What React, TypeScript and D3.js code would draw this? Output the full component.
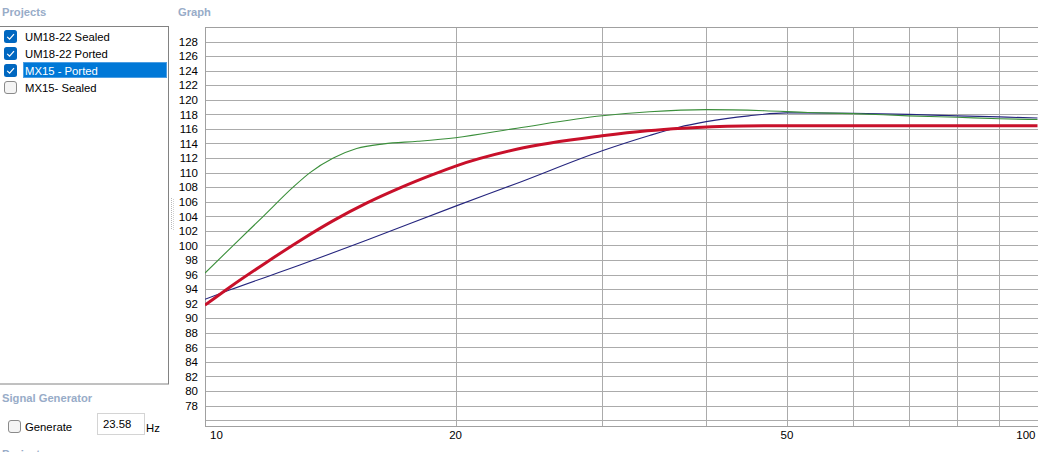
import React from "react";
import * as d3 from "d3";

const projectNames = ["UM18-22 Sealed", "UM18-22 Ported", "MX15 - Ported", "MX15- Sealed"];
const projectChecked = [true, true, true, false];
const selectedIndex = 2;

const yTicks = [78, 80, 82, 84, 86, 88, 90, 92, 94, 96, 98, 100, 102, 104, 106, 108, 110, 112, 114, 116, 118, 120, 122, 124, 126, 128];
const yGrid = [76, ...yTicks];
const xGrid = [20, 30, 40, 50, 60, 70, 80, 90];
const xLabels = [10, 20, 50, 100];

// UM18-22 Sealed (blue)
const sealedFreq = [10, 10.72, 13.0, 15.63, 20, 23.67, 30, 34.2, 37, 40, 45, 50, 60, 70, 80, 90, 100];
const sealedDb = [92.6, 93.9, 97.3, 100.7, 105.4, 108.5, 113.0, 115.1, 116.2, 117.0, 117.8, 118.2, 118.15, 118.0, 117.8, 117.65, 117.5];

// UM18-22 Ported (green)
const portedFreq = [10, 10.8, 11.75, 12.76, 13.37, 14.26, 15.21, 16.4, 18.0, 20, 23.7, 30, 34.2, 40, 47, 53, 60, 70, 80, 90, 100];
const portedDb = [96.2, 99.95, 104.0, 108.0, 110.0, 112.0, 113.3, 113.95, 114.3, 114.8, 116.1, 117.8, 118.35, 118.65, 118.5, 118.25, 118.1, 117.8, 117.6, 117.4, 117.3];

// MX15 - Ported (red)
const mxFreq = [10, 10.72, 11.86, 13.0, 14.26, 15.63, 17.15, 18.8, 20, 23.67, 30, 34, 37.5, 44.3, 50, 100];
const mxDb = [91.8, 94.3, 97.7, 100.65, 103.4, 105.8, 107.9, 109.75, 110.9, 113.2, 115.05, 115.75, 116.1, 116.4, 116.45, 116.45];

const W = 1038;
const H = 452;
const FONT = "'Segoe UI', 'Liberation Sans', Arial, sans-serif";

function Checkbox({ x, y, checked }: { x: number; y: number; checked: boolean }) {
  if (checked) {
    return (
      <g>
        <rect x={x} y={y} width={13} height={13} rx={2.5} fill="#0067c0" />
        <path d={`M${x + 3.2},${y + 6.8} L${x + 5.6},${y + 9.2} L${x + 10},${y + 4.2}`} fill="none" stroke="#ffffff" strokeWidth={1.2} />
      </g>
    );
  }
  return <rect x={x + 0.5} y={y + 0.5} width={12} height={12} rx={2.5} fill="#f4f4f4" stroke="#8a8a8a" strokeWidth={1} />;
}

export default function App() {
  const x = d3.scaleLog().domain([10, 100]).range([205, 1037.5]);
  const y = d3.scaleLinear().domain([130, 75.2]).range([27, 426]);

  const line = d3
    .line<[number, number]>()
    .x((d) => x(d[0]))
    .y((d) => y(d[1]))
    .curve(d3.curveMonotoneX);

  const series = [
    { f: sealedFreq, v: sealedDb, color: "#25257e", w: 1.1 },
    { f: portedFreq, v: portedDb, color: "#3b8f3b", w: 1.1 },
    { f: mxFreq, v: mxDb, color: "#c8102a", w: 3 },
  ];

  const headColor = "#98acc8";
  const left = 205;
  const right = W;
  const top = 27;
  const bottom = 426;

  const dots: JSX.Element[] = [];
  for (let i = 0; i < 16; i++) {
    dots.push(<rect key={"a" + i} x={171} y={198 + i * 2} width={1} height={1} fill="#b8b8b8" />);
    dots.push(<rect key={"b" + i} x={173} y={199 + i * 2} width={1} height={1} fill="#cfcfcf" />);
  }

  return (
    <svg width={W} height={H} style={{ position: "absolute", left: 0, top: 0, background: "#ffffff" }} fontFamily={FONT}>
      <rect x={0} y={0} width={W} height={H} fill="#ffffff" />
      {/* Left panel */}
      <text x={2} y={16} fontSize={11.2} fontWeight={700} fill={headColor}>Projects</text>
      <rect x={-0.5} y={26.5} width={169} height={357.5} fill="#ffffff" stroke="#828282" strokeWidth={1} />
      {projectNames.map((name, i) => {
        const cy = 36 + i * 17;
        const sel = i === selectedIndex;
        return (
          <g key={name}>
            {sel && <rect x={23} y={cy - 8} width={144} height={16} fill="#0078d7" />}
            {sel && <rect x={23.5} y={cy - 7.5} width={143} height={15} fill="none" stroke="#99c4ee" strokeWidth={1} strokeDasharray="1,1" />}
            <Checkbox x={4} y={cy - 6} checked={projectChecked[i]} />
            <text x={25} y={cy + 4.5} fontSize={11.3} fill={sel ? "#ffffff" : "#000000"}>{name}</text>
          </g>
        );
      })}
      <text x={2} y={401.5} fontSize={11.2} fontWeight={700} fill={headColor}>Signal Generator</text>
      <Checkbox x={8} y={420} checked={false} />
      <text x={25} y={431} fontSize={11.3} fill="#000000">Generate</text>
      <rect x={97.5} y={413.5} width={47} height={21} fill="#ffffff" stroke="#d4d4d4" strokeWidth={1} />
      <text x={103} y={427.5} fontSize={11.3} fill="#000000">23.58</text>
      <text x={146} y={431.5} fontSize={11.3} fill="#000000">Hz</text>
      <text x={2} y={458} fontSize={11.2} fontWeight={700} fill={headColor}>Project</text>
      {dots}

      {/* Graph */}
      <text x={178} y={16} fontSize={11.2} fontWeight={700} fill={headColor}>Graph</text>
      <clipPath id="plotclip">
        <rect x={left} y={top} width={right - left} height={bottom - top} />
      </clipPath>
      {yGrid.map((t) => (
        <line key={"h" + t} x1={left} x2={right} y1={Math.round(y(t)) + 0.5} y2={Math.round(y(t)) + 0.5} stroke="#ababab" strokeWidth={1} />
      ))}
      {xGrid.map((t) => (
        <line key={"v" + t} x1={Math.round(x(t)) + 0.5} x2={Math.round(x(t)) + 0.5} y1={top} y2={bottom} stroke="#ababab" strokeWidth={1} />
      ))}
      <line x1={left} x2={right} y1={top + 0.5} y2={top + 0.5} stroke="#a0a0a0" />
      <line x1={left} x2={right} y1={bottom + 0.5} y2={bottom + 0.5} stroke="#a0a0a0" />
      <line x1={left + 0.5} x2={left + 0.5} y1={top} y2={bottom + 1} stroke="#a0a0a0" />
      {yTicks.map((t) => (
        <text key={"yl" + t} x={198} y={y(t) + 4.2} fontSize={11.5} textAnchor="end" fill="#000000">{t}</text>
      ))}
      {xLabels.map((t, i) => {
        const anchor = i === 0 ? "start" : i === xLabels.length - 1 ? "end" : "middle";
        const px = i === 0 ? x(t) + 5 : i === xLabels.length - 1 ? x(t) - 2 : x(t);
        return (
          <text key={"xl" + t} x={px} y={438.5} fontSize={11.5} textAnchor={anchor} fill="#000000">{t}</text>
        );
      })}
      <g clipPath="url(#plotclip)">
        {series.map((s, i) => (
          <path
            key={i}
            d={line(s.f.map((f, j) => [f, s.v[j]] as [number, number])) || ""}
            fill="none"
            stroke={s.color}
            strokeWidth={s.w}
          />
        ))}
      </g>
    </svg>
  );
}
